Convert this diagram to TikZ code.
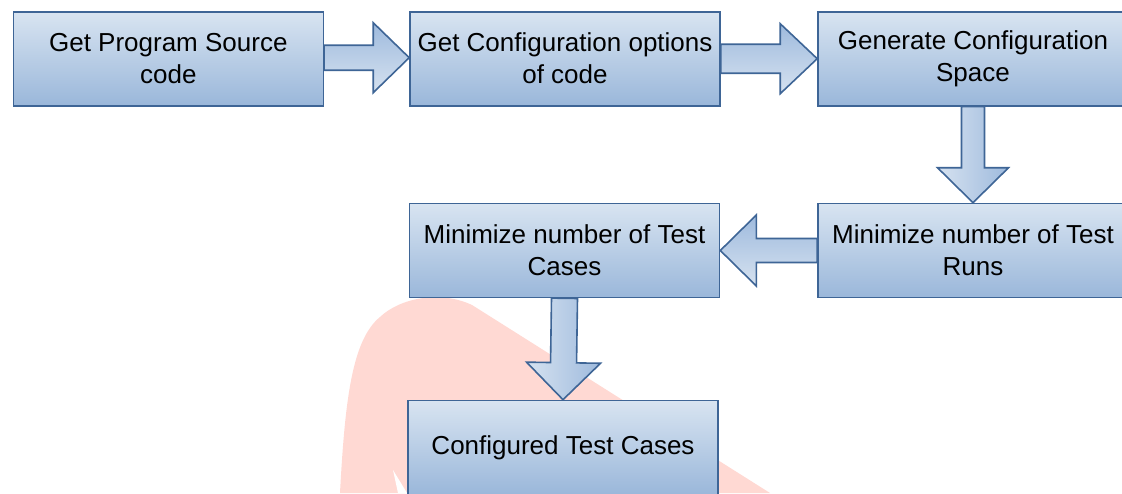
\documentclass[tikz,border=0pt]{standalone}
\usepackage{fontspec}
\setmainfont{Liberation Sans}
\usetikzlibrary{calc}
\definecolor{boxtop}{RGB}{216,228,241}
\definecolor{boxbot}{RGB}{154,183,218}
\definecolor{boxline}{RGB}{62,101,150}
\definecolor{arrlight}{RGB}{214,226,240}
\definecolor{arrdark}{RGB}{158,186,221}
\definecolor{wmark}{RGB}{255,217,211}
\tikzset{
  stepbox/.style={rectangle, draw=boxline, line width=1.6pt,
    top color=boxtop, bottom color=boxbot,
    minimum width=310pt, minimum height=94pt, inner sep=0pt,
    align=center, text=black, font=\fontsize{26}{32}\selectfont},
  arrowbody/.style={draw=boxline, line width=1.6pt, line join=miter},
  harrow/.style={arrowbody, top color=arrdark, bottom color=arrlight},
  varrow/.style={arrowbody, left color=arrlight, right color=arrdark},
}
% #1 style, #2 start, #3 end, #4 shaft half width, #5 head length, #6 head half width
\newcommand\blockarr[6]{%
  \coordinate (ba-h) at ($(#3)!#5!(#2)$);
  \path[#1] ($(#2)!#4!90:(#3)$) -- ($(ba-h)!#4!-90:(#2)$) -- ($(ba-h)!#6!-90:(#2)$)
     -- (#3) -- ($(ba-h)!#6!90:(#2)$) -- ($(ba-h)!#4!90:(#2)$)
     -- ($(#2)!#4!-90:(#3)$) -- cycle;
}
\begin{document}
\begin{tikzpicture}[x=1pt,y=-1pt]
\useasboundingbox (0,0) rectangle (1122,493);
\clip (0,0) rectangle (1122,493);
\fill[white] (0,0) rectangle (1122,493);
% watermark
\fill[wmark] (340,493) .. controls (345,400) and (352,340) .. (380,317)
   .. controls (400,298) and (440,290) .. (472,305) -- (770,493) -- cycle;
\fill[white] (393,470) -- (407,493) -- (398,493) -- cycle;
% boxes
\node[stepbox] (b1) at (168.3,58.7) {Get Program Source\\code};
\node[stepbox] (b2) at (565,58.7) {Get Configuration options\\of code};
\node[stepbox] (b3) at (973,58.7) {Generate Configuration\\Space};
\node[stepbox] (b4) at (973,250.5) {Minimize number of Test\\Runs};
\node[stepbox] (b5) at (564.5,250.5) {Minimize number of Test\\Cases};
\node[stepbox] (b6) at (563,447.5) {Configured Test Cases};
% arrows
\coordinate (a1s) at ($(b1.east)+(0,-1)$);
\coordinate (a1e) at ($(b2.west)+(0,-1)$);
\blockarr{harrow}{a1s}{a1e}{12.5pt}{36pt}{35pt}
\blockarr{harrow}{b2.east}{b3.west}{14.5pt}{37pt}{35pt}
\blockarr{varrow}{b3.south}{b4.north}{11.5pt}{35pt}{35.5pt}
\blockarr{harrow}{b4.west}{b5.east}{12pt}{36pt}{35.5pt}
\blockarr{varrow}{b5.south}{b6.north}{13pt}{37pt}{37pt}
\end{tikzpicture}
\end{document}
